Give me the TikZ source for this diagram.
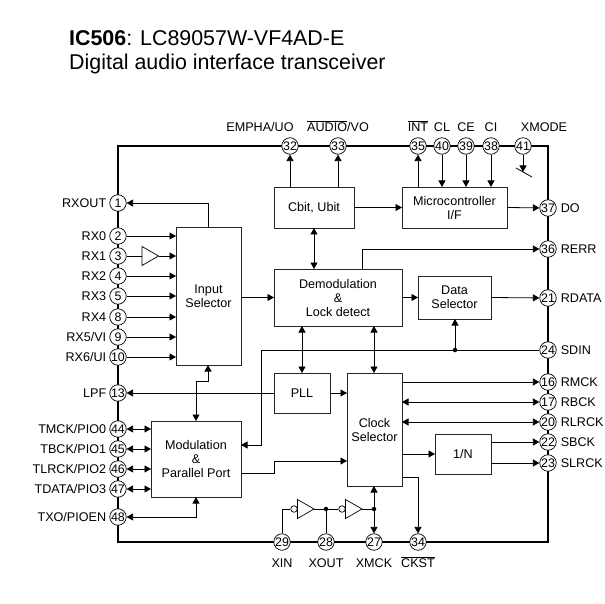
\documentclass[tikz,border=0pt]{standalone}
\usepackage{fontspec}
\setmainfont{Liberation Sans}
\usetikzlibrary{arrows.meta,positioning}
\tikzset{
  chipframe/.style={
    draw=black,
    line width=1.5pt,
    inner sep=0pt
  },
  blockbox/.style={
    draw=black!85,
    fill=white,
    line width=0.8pt,
    align=center,
    inner sep=0pt,
    outer sep=0pt,
    font=\fontsize{12.6}{14}\selectfont
  },
  pinnode/.style={
    circle,
    draw=black,
    fill=white,
    line width=0.7pt,
    minimum size=16.5pt,
    inner sep=0pt,
    font=\fontsize{12.4}{12}\selectfont
  },
  pinlabel/.style={
    inner sep=0pt,
    text height=9pt,
    text depth=0pt,
    font=\fontsize{12.6}{14}\selectfont
  },
  titlebox/.style={
    anchor=base west,
    inner sep=0pt,
    font=\fontsize{21.4}{24}\selectfont
  },
  bufshape/.style={
    draw=black,
    fill=white,
    line width=0.7pt
  },
  bubble/.style={
    circle,
    draw=black,
    fill=white,
    line width=0.7pt,
    minimum size=6.5pt,
    inner sep=0pt
  },
  joint/.style={
    circle,
    fill=black,
    minimum size=4.5pt,
    inner sep=0pt
  },
  sigline/.style={
    line width=0.8pt
  },
  sigarrow/.style={
    -{Triangle[length=6.5pt,width=7pt]},
    line width=0.8pt
  },
  bothsarrow/.style={
    {Triangle[length=6.5pt,width=7pt]}-{Triangle[length=6.5pt,width=7pt]},
    line width=0.8pt
  }
}
\begin{document}
\begin{tikzpicture}[x=1pt,y=-1pt]
  \useasboundingbox (0,0) rectangle (605,604);

  \node[titlebox] (title) at (69,46) {\textbf{IC506}: LC89057W-VF4AD-E};
  \node[titlebox] (subtitle) at (69,70) {Digital audio interface transceiver};

  \node[chipframe, minimum width=430pt, minimum height=396pt] (chip) at (333,344) {};

  % function blocks
  \node[blockbox, minimum width=65pt, minimum height=138pt] (insel) at (208.5,296) {Input\\Selector};
  \node[blockbox, minimum width=80pt, minimum height=41pt] (cbit) at (314,207.5) {Cbit, Ubit};
  \node[blockbox, minimum width=105pt, minimum height=41pt] (micro) at (454.5,207.5) {Microcontroller\\I/F};
  \node[blockbox, minimum width=128pt, minimum height=57pt] (demod) at (338,297.5) {Demodulation\\\&\\Lock detect};
  \node[blockbox, minimum width=73pt, minimum height=43pt] (datasel) at (454.5,297.5) {Data\\Selector};
  \node[blockbox, minimum width=56pt, minimum height=40pt] (pll) at (302,393) {PLL};
  \node[blockbox, minimum width=55pt, minimum height=113pt] (clksel) at (374.5,429.5) {Clock\\Selector};
  \node[blockbox, minimum width=56pt, minimum height=40pt] (divn) at (463,454) {1/N};
  \node[blockbox, minimum width=90pt, minimum height=76pt] (modport) at (196,459) {Modulation\\\&\\Parallel Port};

  % left pins
  \node[pinnode] (p1) at (118,203) {1};
  \node[pinnode] (p2) at (118,236) {2};
  \node[pinnode] (p3) at (118,256) {3};
  \node[pinnode] (p4) at (118,276) {4};
  \node[pinnode] (p5) at (118,296) {5};
  \node[pinnode] (p8) at (118,317) {8};
  \node[pinnode] (p9) at (118,337) {9};
  \node[pinnode] (p10) at (118,357) {10};
  \node[pinnode] (p13) at (118,393) {13};
  \node[pinnode] (p44) at (118,429) {44};
  \node[pinnode] (p45) at (118,449) {45};
  \node[pinnode] (p46) at (118,469) {46};
  \node[pinnode] (p47) at (118,489) {47};
  \node[pinnode] (p48) at (118,517) {48};

  % top pins
  \node[pinnode] (p32) at (290,146) {32};
  \node[pinnode] (p33) at (338,146) {33};
  \node[pinnode] (p35) at (418,146) {35};
  \node[pinnode] (p40) at (442,146) {40};
  \node[pinnode] (p39) at (466,146) {39};
  \node[pinnode] (p38) at (491,146) {38};
  \node[pinnode] (p41) at (523,146) {41};

  % right pins
  \node[pinnode] (p37) at (548,208) {37};
  \node[pinnode] (p36) at (548,249) {36};
  \node[pinnode] (p21) at (548,298) {21};
  \node[pinnode] (p24) at (548,350) {24};
  \node[pinnode] (p16) at (548,382) {16};
  \node[pinnode] (p17) at (548,402) {17};
  \node[pinnode] (p20) at (548,422) {20};
  \node[pinnode] (p22) at (548,442) {22};
  \node[pinnode] (p23) at (548,463) {23};

  % bottom pins
  \node[pinnode] (p29) at (282,542) {29};
  \node[pinnode] (p28) at (326,542) {28};
  \node[pinnode] (p27) at (374,542) {27};
  \node[pinnode] (p34) at (418,542) {34};

  % pin names
  \node[pinlabel, left=3pt of p1] {RXOUT};
  \node[pinlabel, left=3pt of p2] {RX0};
  \node[pinlabel, left=3pt of p3] {RX1};
  \node[pinlabel, left=3pt of p4] {RX2};
  \node[pinlabel, left=3pt of p5] {RX3};
  \node[pinlabel, left=3pt of p8] {RX4};
  \node[pinlabel, left=3pt of p9] {RX5/VI};
  \node[pinlabel, left=3pt of p10] {RX6/UI};
  \node[pinlabel, left=3pt of p13] {LPF};
  \node[pinlabel, left=3pt of p44] {TMCK/PIO0};
  \node[pinlabel, left=3pt of p45] {TBCK/PIO1};
  \node[pinlabel, left=3pt of p46] {TLRCK/PIO2};
  \node[pinlabel, left=3pt of p47] {TDATA/PIO3};
  \node[pinlabel, left=3pt of p48] {TXO/PIOEN};
  \node[pinlabel, above=6pt of p32, xshift=-30pt] {EMPHA/UO};
  \node[pinlabel, above=6pt of p33] {$\overline{\mbox{AUDIO}}$/VO};
  \node[pinlabel, above=6pt of p35] {$\overline{\mbox{INT}}$};
  \node[pinlabel, above=6pt of p40] {CL};
  \node[pinlabel, above=6pt of p39] {CE};
  \node[pinlabel, above=6pt of p38] {CI};
  \node[pinlabel, above=6pt of p41, xshift=21pt] {XMODE};
  \node[pinlabel, right=4pt of p37] {DO};
  \node[pinlabel, right=4pt of p36] {RERR};
  \node[pinlabel, right=4pt of p21] {RDATA};
  \node[pinlabel, right=4pt of p24] {SDIN};
  \node[pinlabel, right=4pt of p16] {RMCK};
  \node[pinlabel, right=4pt of p17] {RBCK};
  \node[pinlabel, right=4pt of p20] {RLRCK};
  \node[pinlabel, right=4pt of p22] {SBCK};
  \node[pinlabel, right=4pt of p23] {SLRCK};
  \node[pinlabel, below=8pt of p29] {XIN};
  \node[pinlabel, below=8pt of p28] {XOUT};
  \node[pinlabel, below=8pt of p27] {XMCK};
  \node[pinlabel, below=8pt of p34] {$\overline{\mbox{CKST}}$};

  % buffers
  \coordinate (buf1) at (142,256);
  \coordinate (buf1tip) at (158.5,256);
  \coordinate (buf2) at (297.5,509);
  \coordinate (buf2tip) at (314,509);
  \coordinate (buf3) at (345.5,509);
  \coordinate (buf3tip) at (362,509);
  \draw[bufshape] (buf1) ++(0,-9.5) -- (buf1tip) -- (142,265.5) -- cycle;
  \draw[bufshape] (buf2) ++(0,-9.5) -- (buf2tip) -- (297.5,518.5) -- cycle;
  \draw[bufshape] (buf3) ++(0,-9.5) -- (buf3tip) -- (345.5,518.5) -- cycle;
  \node[bubble] (bub1) at (294,509) {};
  \node[bubble] (bub2) at (342,509) {};
  \node[joint] (dot1) at (326,509) {};
  \node[joint] (dot2) at (374,509) {};
  \node[joint] (dot3) at (455,350) {};

  % helper points
  \coordinate (tap41) at (523,172);
  \coordinate (slashA) at (516,168);
  \coordinate (slashB) at (532,177);
  \coordinate (bendsdin) at (261,350);
  \coordinate (bendmod) at (261,445);
  \coordinate (busdp) at (302,350);
  \coordinate (busrerr) at (362,249);
  \coordinate (busdc) at (374,350);
  \coordinate (busmod) at (274,461);
  \coordinate (busmodb) at (274,473);
  \coordinate (busins) at (196,381);
  \coordinate (businsb) at (208,381);
  \coordinate (busck) at (418,477);

  % left side
  \draw[sigarrow] (insel.north) -- (insel.north |- p1) -- (p1);
  \draw[sigarrow] (p2) -- (p2 -| insel.west);
  \draw[sigline] (p3) -- (buf1);
  \draw[sigarrow] (buf1tip) -- (buf1tip -| insel.west);
  \draw[sigarrow] (p4) -- (p4 -| insel.west);
  \draw[sigarrow] (p5) -- (p5 -| insel.west);
  \draw[sigarrow] (p8) -- (p8 -| insel.west);
  \draw[sigarrow] (p9) -- (p9 -| insel.west);
  \draw[sigarrow] (p10) -- (p10 -| insel.west);
  \draw[sigarrow] (pll.west) -- (p13);
  \draw[bothsarrow] (p44) -- (p44 -| modport.west);
  \draw[bothsarrow] (p45) -- (p45 -| modport.west);
  \draw[bothsarrow] (p46) -- (p46 -| modport.west);
  \draw[bothsarrow] (p47) -- (p47 -| modport.west);
  \draw[bothsarrow] (p48) -- (p48 -| modport.south) -- (modport.south);
  \draw[bothsarrow] (modport.north) -- (busins) -- (businsb) -- (businsb |- insel.south);

  % top side
  \draw[sigarrow] (p32 |- cbit.north) -- (p32);
  \draw[sigarrow] (p33 |- cbit.north) -- (p33);
  \draw[sigarrow] (p35 |- micro.north) -- (p35);
  \draw[sigarrow] (p40) -- (p40 |- micro.north);
  \draw[sigarrow] (p39) -- (p39 |- micro.north);
  \draw[sigarrow] (p38) -- (p38 |- micro.north);
  \draw[sigarrow] (p41) -- (tap41);
  \draw[sigline] (slashA) -- (slashB);

  % middle blocks
  \draw[sigarrow] (cbit.east) -- (micro.west);
  \draw[sigarrow] (micro.east) -- (p37);
  \draw[bothsarrow] (cbit.south) -- (cbit.south |- demod.north);
  \draw[sigarrow] (insel.east |- demod) -- (demod.west);
  \draw[sigarrow] (busrerr |- demod.north) -- (busrerr) -- (p36);
  \draw[sigarrow] (demod.east) -- (datasel.west);
  \draw[sigarrow] (datasel.east) -- (p21);
  \draw[bothsarrow] (busdp |- demod.south) -- (busdp |- pll.north);
  \draw[bothsarrow] (busdc |- demod.south) -- (busdc |- clksel.north);

  % SDIN bus
  \draw[sigline] (p24) -- (dot3);
  \draw[sigarrow] (dot3) -- (dot3 |- datasel.south);
  \draw[sigarrow] (dot3) -- (bendsdin) -- (bendmod) -- (bendmod -| modport.east);

  % clock side
  \draw[sigarrow] (pll.east) -- (pll.east -| clksel.west);
  \draw[sigarrow] (modport.east |- busmodb) -- (busmodb) -- (busmod) -- (busmod -| clksel.west);
  \draw[sigarrow] (clksel.east |- p16) -- (p16);
  \draw[bothsarrow] (clksel.east |- p17) -- (p17);
  \draw[bothsarrow] (clksel.east |- p20) -- (p20);
  \draw[sigarrow] (clksel.east |- divn) -- (divn.west);
  \draw[sigarrow] (divn.east |- p22) -- (p22);
  \draw[sigarrow] (divn.east |- p23) -- (p23);
  \draw[sigarrow] (clksel.east |- busck) -- (busck) -- (p34);

  % oscillator
  \draw[sigline] (p29) -- (p29 |- bub1) -- (bub1);
  \draw[sigline] (buf2tip) -- (dot1) -- (bub2);
  \draw[sigline] (buf3tip) -- (dot2);
  \draw[sigline] (dot1) -- (p28);
  \draw[bothsarrow] (p27) -- (p27 |- clksel.south);
\end{tikzpicture}
\end{document}
